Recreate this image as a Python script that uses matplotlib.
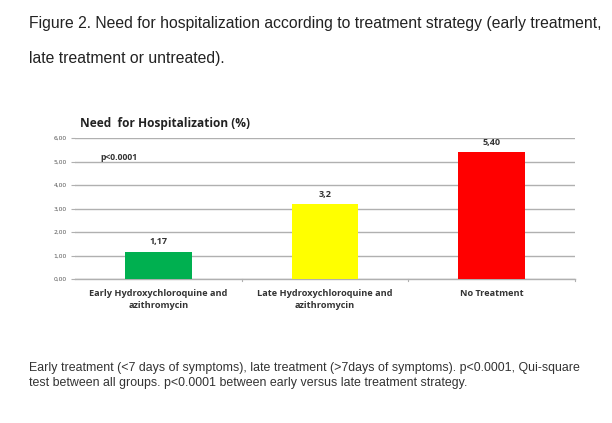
import matplotlib.pyplot as plt
import numpy as np

groups = ['Early Hydroxychloroquine and\nazithromycin',
          'Late Hydroxychloroquine and\nazithromycin',
          'No Treatment']
values = [1.17, 3.2, 5.40]
value_labels = ['1,17', '3,2', '5,40']
bar_colors = ['#00b050', '#ffff00', '#ff0000']
yticks = [0, 1, 2, 3, 4, 5, 6]
ytick_labels = ['0,00', '1,00', '2,00', '3,00', '4,00', '5,00', '6,00']

fig = plt.figure(figsize=(6.12, 4.23), dpi=100)
fig.patch.set_facecolor('white')

# texto da figura (legenda do artigo)
fig.text(0.047, 0.945, 'Figure 2. Need for hospitalization according to treatment strategy (early treatment,',
         fontsize=11.3, family='Liberation Sans', color='#222222', va='center')
fig.text(0.047, 0.862, 'late treatment or untreated).',
         fontsize=11.3, family='Liberation Sans', color='#222222', va='center')

ax = fig.add_axes([0.1225, 0.3404, 0.817, 0.3333])
x = np.arange(len(groups))
ax.bar(x, values, width=0.4, color=bar_colors, zorder=3)
for xi, v, lab in zip(x, values, value_labels):
    ax.text(xi, v + 0.22, lab, ha='center', va='bottom', fontsize=6.5,
            fontweight='bold', color='#333333', family='Open Sans')

ax.set_xlim(-0.5, 2.5)
ax.set_ylim(0, 6)
ax.set_yticks(yticks)
ax.set_yticklabels(ytick_labels, fontsize=4.3, color='#555555', family='DejaVu Sans')
ax.set_xticks(x)
ax.set_xticklabels(groups, fontsize=6.6, fontweight='bold', color='#333333',
                   family='Open Sans', linespacing=1.5)
ax.yaxis.grid(True, color='#b0b0b0', linewidth=1.0, zorder=0)
ax.tick_params(axis='y', length=3, color='#b0b0b0', pad=3)
ax.tick_params(axis='x', length=0, pad=7)
for xb in [0.5, 1.5, 2.5]:
    ax.plot([xb, xb], [0, -0.1], color='#b0b0b0', lw=0.8, clip_on=False)
for s in ['top', 'right', 'left']:
    ax.spines[s].set_visible(False)
ax.spines['bottom'].set_color('#b0b0b0')
ax.spines['bottom'].set_linewidth(1.0)

ax.text(-0.35, 5.0, 'p<0.0001', fontsize=6.2, fontweight='bold', color='#333333',
        family='Open Sans', va='bottom')
fig.text(0.131, 0.708, 'Need  for Hospitalization (%)', fontsize=8.6, fontweight='bold',
         color='#222222', family='Open Sans', va='center')

fig.text(0.047, 0.13, 'Early treatment (<7 days of symptoms), late treatment (>7days of symptoms). p<0.0001, Qui-square',
         fontsize=8.9, family='Liberation Sans', color='#333333', va='center')
fig.text(0.047, 0.095, 'test between all groups. p<0.0001 between early versus late treatment strategy.',
         fontsize=8.9, family='Liberation Sans', color='#333333', va='center')

plt.savefig('out.png', dpi=100)
